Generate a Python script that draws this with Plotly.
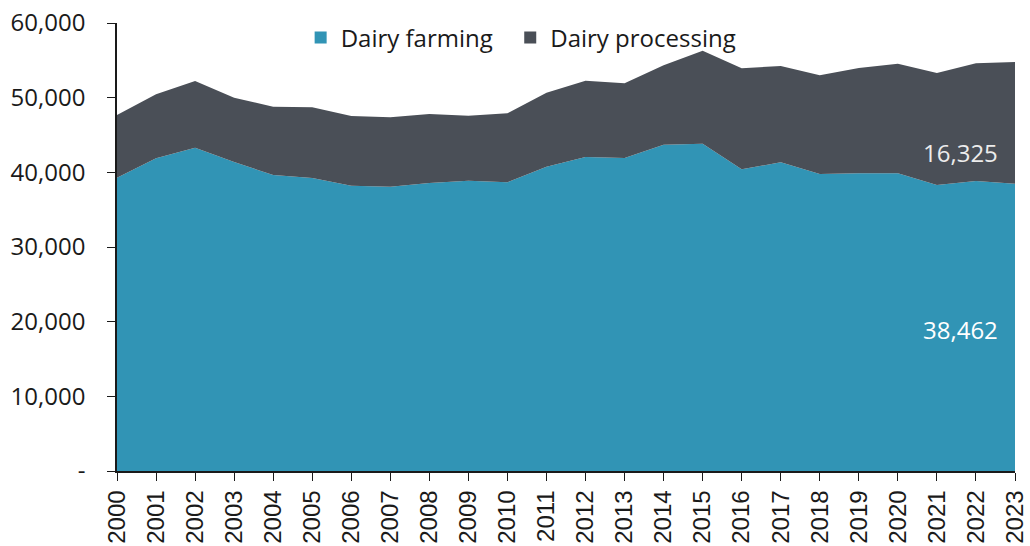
import plotly.graph_objects as go

years = list(range(2000, 2024))
dairy_farming = [39270, 41900, 43300, 41380, 39640, 39240, 38210, 38080, 38570, 38880,
                 38660, 40750, 42050, 41920, 43700, 43840, 40400, 41340, 39770, 39870,
                 39870, 38300, 38840, 38462]
dairy_total = [47680, 50450, 52230, 50000, 48790, 48700, 47540, 47370, 47810, 47590,
               47900, 50670, 52270, 51920, 54330, 56290, 53930, 54240, 52990, 53970,
               54550, 53300, 54600, 54787]
dairy_processing = [t - f for t, f in zip(dairy_total, dairy_farming)]

y_tickvals = [0, 10000, 20000, 30000, 40000, 50000, 60000]
y_ticktext = ["-", "10,000", "20,000", "30,000", "40,000", "50,000", "60,000"]

TEAL = "#3194b5"
DARK = "#4a4f57"

fig = go.Figure()
fig.add_trace(go.Scatter(x=years, y=dairy_farming, stackgroup="one", mode="none",
                         fillcolor=TEAL, name="Dairy farming", showlegend=False))
fig.add_trace(go.Scatter(x=years, y=dairy_processing, stackgroup="one", mode="none",
                         fillcolor=DARK, name="Dairy processing", showlegend=False))
# legend entries
fig.add_trace(go.Scatter(x=[None], y=[None], mode="markers",
                         name="Dairy farming\u00a0\u00a0",
                         marker=dict(symbol="square", size=16, color=TEAL)))
fig.add_trace(go.Scatter(x=[None], y=[None], mode="markers", name="Dairy processing",
                         marker=dict(symbol="square", size=16, color=DARK)))

fig.add_annotation(x=2021.6, y=18900, text=f"{dairy_farming[-1]:,}", showarrow=False,
                   font=dict(family="Open Sans", size=24, color="white"))
fig.add_annotation(x=2021.6, y=42600, text=f"{dairy_processing[-1]:,}", showarrow=False,
                   font=dict(family="Open Sans", size=24, color="#ececec"))

fig.update_layout(
    width=1030, height=546,
    margin=dict(l=117, r=15, t=23, b=75),
    paper_bgcolor="white", plot_bgcolor="white",
    font=dict(family="Open Sans", color="#1a1a1a"),
    legend=dict(orientation="h", x=0.2045, xanchor="left", y=1.017, yanchor="top",
                font=dict(family="Open Sans", size=24, color="#1a1a1a"),
                bgcolor="rgba(0,0,0,0)", itemsizing="constant", traceorder="normal"),
    xaxis=dict(range=[2000, 2023], tickvals=years, ticktext=[str(y) for y in years],
               tickangle=-90, showgrid=False, showline=True, linecolor="#1a1a1a",
               linewidth=1.5, ticks="outside", ticklen=8, tickcolor="#1a1a1a",
               tickfont=dict(family="Liberation Sans", size=24, color="#1a1a1a"),
               zeroline=False, automargin=False),
    yaxis=dict(range=[0, 60000], tickvals=y_tickvals, ticktext=y_ticktext,
               showgrid=False, showline=True, linecolor="#1a1a1a", linewidth=1.5,
               ticks="outside", ticklen=8, tickcolor="#1a1a1a",
               tickfont=dict(family="Open Sans", size=24, color="#1a1a1a"),
               zeroline=False, ticklabelstandoff=17, automargin=False),
)

fig.write_html("out.html", config={"displayModeBar": False},
               post_script="document.body.style.margin='0';")
